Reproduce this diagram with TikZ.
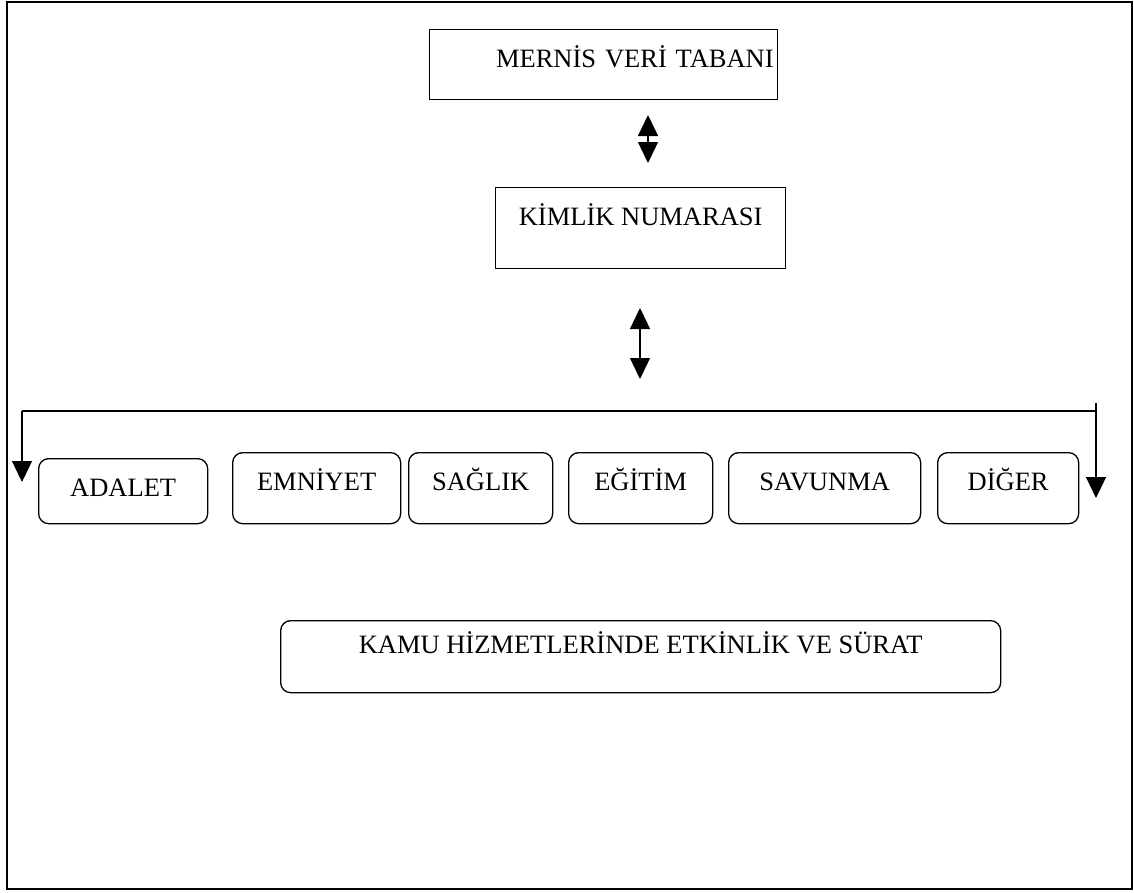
\documentclass[tikz,border=0pt]{standalone}
\usepackage{fontspec}
\setmainfont{Liberation Serif}
\usetikzlibrary{arrows.meta}

\tikzset{
  kutu/.style={draw, line width=1.3pt, inner sep=0pt, anchor=north west},
  yuvarlak/.style={kutu, rounded corners=10pt, text height=38pt},
  ok/.style={line width=1.3pt, -{Triangle[width=20pt,length=21pt]}},
  ciftok/.style={line width=1.3pt, {Triangle[width=20pt,length=21pt]}-{Triangle[width=20pt,length=21pt]}},
}

\begin{document}
\begin{tikzpicture}[x=1pt, y=-1pt, font=\fontsize{26.5}{30}\selectfont]
 \useasboundingbox (0,0) rectangle (1134,892);
 \draw[line width=2pt] (7,2) rectangle (1132,889);
 %
 \node[kutu, text width=340pt, inner xsep=4pt, align=right, text height=38pt, text depth=32pt] (mernis) at (429,29) {MERNİS VERİ TABANI};
 \node[kutu, minimum width=290pt, text height=38pt, text depth=43pt] (kimlik) at (495,187) {KİMLİK NUMARASI};
 %
 \coordinate (o1a) at (648,115);
 \coordinate (o1b) at (648,163);
 \coordinate (o2a) at (640,308);
 \coordinate (o2b) at (640,379);
 \draw[ciftok] (o1a) -- (o1b);
 \draw[ciftok] (o2a) -- (o2b);
 %
 \coordinate (hatsol) at (22,411);
 \coordinate (hatsag) at (1096,411);
 \coordinate (solucu) at (22,482);
 \coordinate (sagust) at (1096,403);
 \coordinate (sagucu) at (1096,498);
 \draw[line width=1.3pt] (hatsol) -- (hatsag);
 \draw[ok] (hatsol) -- (solucu);
 \draw[ok] (sagust) -- (sagucu);
 %
 \node[yuvarlak, minimum width=169pt, text height=38pt, text depth=27pt] (adalet) at (38,458) {ADALET};
 \node[yuvarlak, minimum width=168pt, text depth=33pt] (emniyet) at (232,452) {EMNİYET};
 \node[yuvarlak, minimum width=144pt, text depth=33pt] (saglik) at (408,452) {SAĞLIK};
 \node[yuvarlak, minimum width=144pt, text depth=33pt] (egitim) at (568,452) {EĞİTİM};
 \node[yuvarlak, minimum width=192pt, text depth=33pt] (savunma) at (728,452) {SAVUNMA};
 \node[yuvarlak, minimum width=141pt, text depth=33pt] (diger) at (937,452) {DİĞER};
 %
 \node[yuvarlak, minimum width=720pt, text height=33pt, text depth=39pt] (kamu) at (280,620) {KAMU HİZMETLERİNDE ETKİNLİK VE SÜRAT};
\end{tikzpicture}
\end{document}
